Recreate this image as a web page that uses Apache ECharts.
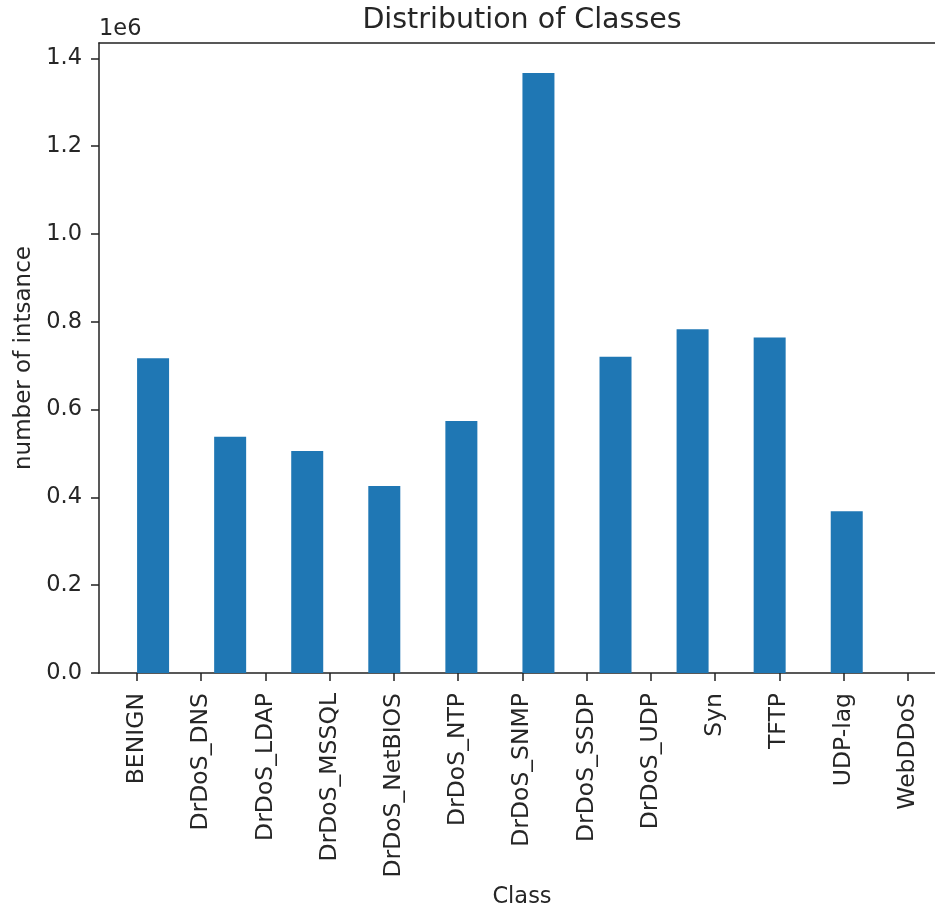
<!DOCTYPE html>
<html>
<head>
<meta charset="utf-8">
<script src="https://cdn.jsdelivr.net/npm/echarts@6/dist/echarts.min.js"></script>
<style>
html,body{margin:0;padding:0;background:#fff;}
#chart{width:935px;height:908px;}
</style>
</head>
<body>
<div id="chart"></div>
<script>
// Category tick labels (x axis, positions 0..12)
const categories = ['BENIGN','DrDoS_DNS','DrDoS_LDAP','DrDoS_MSSQL','DrDoS_NetBIOS','DrDoS_NTP','DrDoS_SNMP','DrDoS_SSDP','DrDoS_UDP','Syn','TFTP','UDP-lag','WebDDoS'];
// Histogram bins: left edges (data units on the category scale)
const binLeft = [0, 1.2, 2.4, 3.6, 4.8, 6.0, 7.2, 8.4, 9.6, 10.8];
const barSpan = 0.5;
// Heights of the bars (number of instances)
const counts = [717000, 538000, 505500, 426000, 574000, 1366600, 720500, 783000, 764000, 368700];
// y tick values
const yTicks = [0, 200000, 400000, 600000, 800000, 1000000, 1200000, 1400000];
const xTicks = categories.map((c, i) => i);

const FONT = 'DejaVu Sans';
const TXT = '#262626';

const chart = echarts.init(document.getElementById('chart'), null, {renderer: 'canvas'});
const barData = binLeft.map((b, i) => [b + barSpan / 2, counts[i]]);

chart.setOption({
  animation: false,
  backgroundColor: '#fff',
  title: [
    {text: 'Distribution of Classes', left: 522, top: 6, textAlign: 'center', padding: 0,
     textStyle: {fontFamily: FONT, fontSize: 28.5, fontWeight: 'normal', color: TXT}},
    {text: '1e6', left: 99, top: 18, padding: 0,
     textStyle: {fontFamily: FONT, fontSize: 22.5, fontWeight: 'normal', color: TXT}}
  ],
  grid: {left: 99, right: -10, top: 43, bottom: 235, containLabel: false, outerBoundsMode: 'none'},
  xAxis: [
    {
      type: 'value', min: -0.592, max: 12.58, position: 'bottom',
      name: 'Class', nameLocation: 'middle', nameGap: 210,
      nameTextStyle: {fontFamily: FONT, fontSize: 22.5, color: TXT},
      splitLine: {show: false},
      axisLine: {show: true, onZero: false, lineStyle: {color: '#222', width: 1.5}},
      axisTick: {show: true, length: 8, customValues: xTicks, lineStyle: {color: '#222', width: 1.5}},
      axisLabel: {rotate: 90, margin: 20, customValues: xTicks,
        fontFamily: FONT, fontSize: 23.5, color: TXT,
        formatter: v => categories[Math.round(v)]}
    },
    {
      type: 'value', min: -0.592, max: 12.58, position: 'top',
      splitLine: {show: false},
      axisLine: {show: true, onZero: false, lineStyle: {color: '#222', width: 1.5}},
      axisTick: {show: false}, axisLabel: {show: false}
    }
  ],
  yAxis: {
    type: 'value', min: 0, max: 1435000,
    name: 'number of intsance', nameLocation: 'middle', nameGap: 63, nameRotate: 90,
    nameTextStyle: {fontFamily: FONT, fontSize: 23, color: TXT},
    splitLine: {show: false},
    axisLine: {show: true, onZero: false, lineStyle: {color: '#222', width: 1.5}},
    axisTick: {show: true, length: 8, customValues: yTicks, lineStyle: {color: '#222', width: 1.5}},
    axisLabel: {margin: 17, customValues: yTicks, fontFamily: FONT, fontSize: 22.5, color: TXT,
      formatter: v => (v / 1e6).toFixed(1)}
  },
  series: [{
    type: 'bar', xAxisIndex: 0, data: barData, barWidth: 32,
    itemStyle: {color: '#1f77b4'}
  }]
});
</script>
</body>
</html>
